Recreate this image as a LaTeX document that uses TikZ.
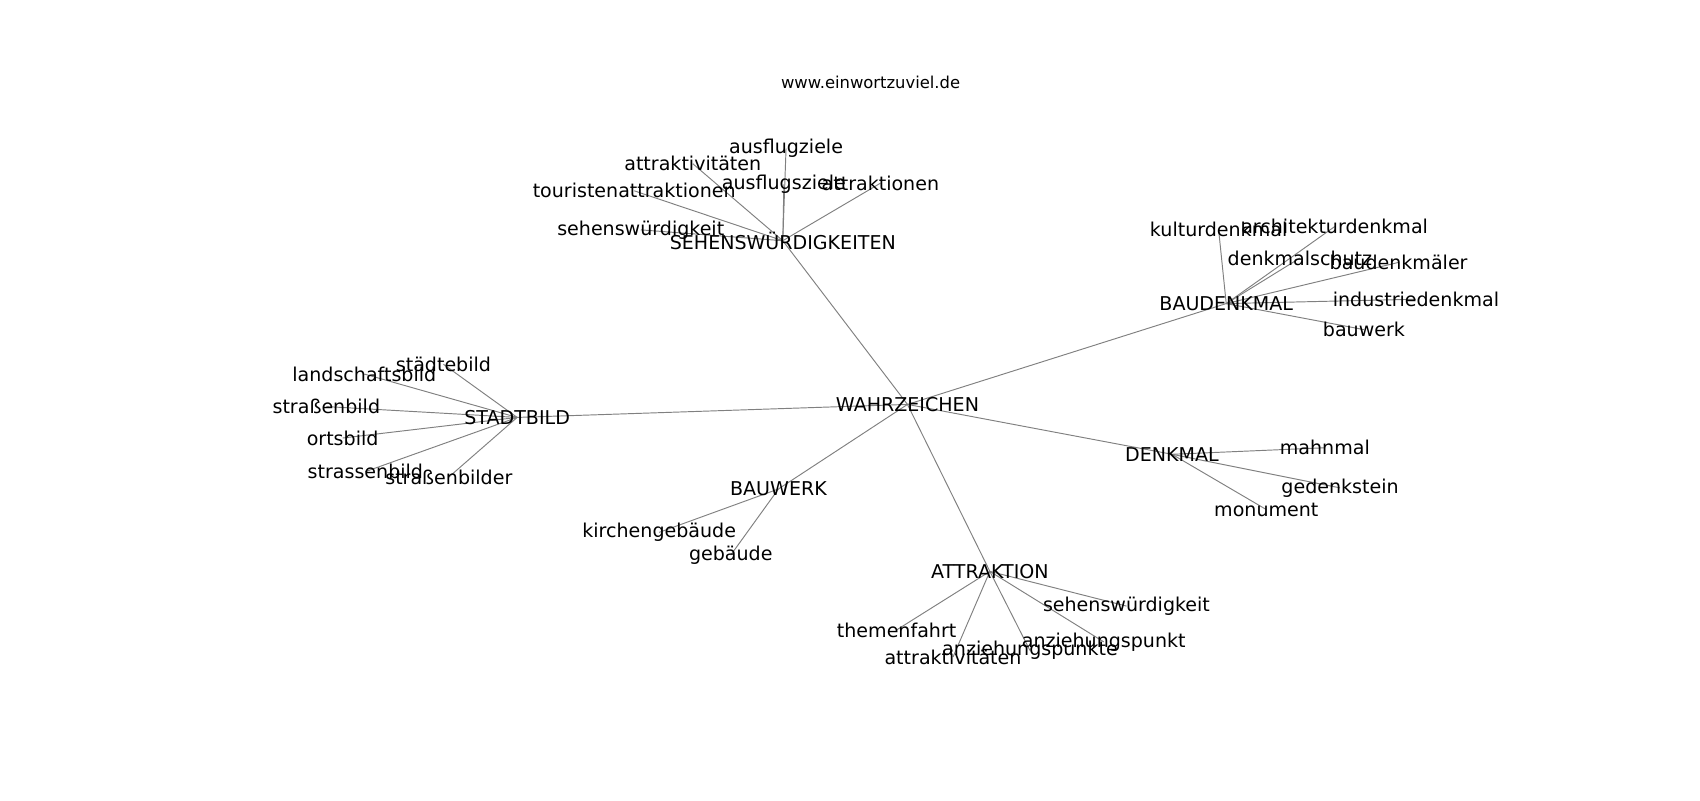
\documentclass[tikz,border=0pt]{standalone}
\usepackage{fontspec}
\setmainfont{DejaVu Sans}
\usepackage{tikz}
\usetikzlibrary{positioning, calc, backgrounds}

\begin{document}
\begin{tikzpicture}[x=0.2mm, y=-0.2mm,
    word/.style={inner sep=0pt, font=\fontsize{10}{12}\selectfont},
    link/.style={draw=black!50, line width=0.5pt}]
        \useasboundingbox (0,0) rectangle (1568,738);
        \node[inner sep=0pt, font=\fontsize{8.6}{10}\selectfont] (url) at (803,76) {www.einwortzuviel.de};

        % hubs
        \node[word] (wahr) at (837,373) {WAHRZEICHEN};
        \node[word] (sehens) at (722,222) {SEHENSWÜRDIGKEITEN};
        \node[word] (baud) at (1131,280) {BAUDENKMAL};
        \node[word] (stadt) at (477,385) {STADTBILD};
        \node[word] (denk) at (1081,419) {DENKMAL};
        \node[word] (bauw) at (718,451) {BAUWERK};
        \node[word] (attr) at (913,527) {ATTRAKTION};

        % sehenswuerdigkeiten
        \node[word] (ausflugziele) at (725,137) {ausflugziele};
        \node[word] (attraktiv) at (639,151) {attraktivitäten};
        \node[word] (touristen) at (585,176) {touristenattraktionen};
        \node[word] (ausflugsziele) at (723,170) {ausflugsziele};
        \node[word] (attraktionen) at (812,169) {attraktionen};
        \node[word] (sehensw) at (591,212) {sehenswürdigkeit};

        % baudenkmal
        \node[word] (kultur) at (1124,212) {kulturdenkmal};
        \node[word] (architektur) at (1231,209) {architekturdenkmal};
        \node[word] (denkmalschutz) at (1199,238) {denkmalschutz};
        \node[word] (baudenkmaeler) at (1290,242) {baudenkmäler};
        \node[word] (industrie) at (1306,276) {industriedenkmal};
        \node[word] (bauwerk) at (1258,304) {bauwerk};

        % stadtbild
        \node[word] (staedtebild) at (409,336) {städtebild};
        \node[word] (landschaft) at (336,345) {landschaftsbild};
        \node[word] (strassbild) at (301,375) {straßenbild};
        \node[word] (ortsbild) at (316,404) {ortsbild};
        \node[word] (strassenbild) at (337,435) {strassenbild};
        \node[word] (strassbilder) at (414,440) {straßenbilder};

        % denkmal
        \node[word] (mahnmal) at (1222,413) {mahnmal};
        \node[word] (gedenkstein) at (1236,450) {gedenkstein};
        \node[word] (monument) at (1168,470) {monument};

        % bauwerk
        \node[word] (kirche) at (608,491) {kirchengebäude};
        \node[word] (gebaeude) at (674,512) {gebäude};

        % attraktion
        \node[word] (sehensw2) at (1039,559) {sehenswürdigkeit};
        \node[word] (themenfahrt) at (827,581) {themenfahrt};
        \node[word] (anzpunkt) at (1018,592) {anziehungspunkt};
        \node[word] (anzpunkte) at (950,600) {anziehungspunkte};
        \node[word] (attraktiv2) at (879,606) {attraktivitäten};

        \begin{scope}[on background layer]
        \foreach \a/\b in {wahr/sehens, wahr/baud, wahr/stadt, wahr/denk, wahr/bauw, wahr/attr,
            sehens/ausflugziele, sehens/attraktiv, sehens/touristen, sehens/ausflugsziele, sehens/attraktionen, sehens/sehensw,
            baud/kultur, baud/architektur, baud/denkmalschutz, baud/baudenkmaeler, baud/industrie, baud/bauwerk,
            stadt/staedtebild, stadt/landschaft, stadt/strassbild, stadt/ortsbild, stadt/strassenbild, stadt/strassbilder,
            denk/mahnmal, denk/gedenkstein, denk/monument,
            bauw/kirche, bauw/gebaeude,
            attr/sehensw2, attr/themenfahrt, attr/anzpunkt, attr/anzpunkte, attr/attraktiv2}
        \draw[link] (\a.center) -- (\b.center);
        \end{scope}
      \end{tikzpicture}
\end{document}
